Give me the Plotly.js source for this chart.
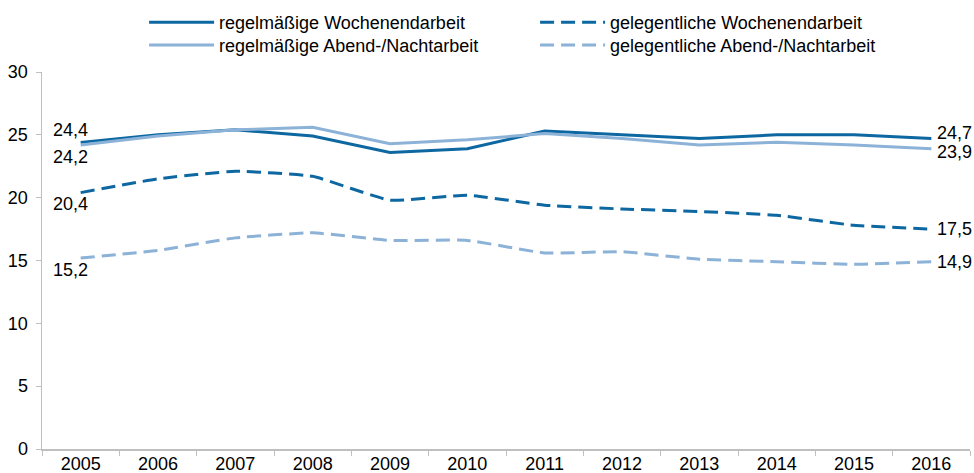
<!DOCTYPE html>
<html>
<head>
<meta charset="utf-8">
<script src="https://cdn.plot.ly/plotly-3.0.1.min.js"></script>
<style>html,body{margin:0;padding:0;background:#fff;}#chart{width:974px;height:473px;}</style>
</head>
<body>
<div id="chart"></div>
<script>
const years = ['2005','2006','2007','2008','2009','2010','2011','2012','2013','2014','2015','2016'];
const seriesNames = ['regelmäßige Wochenendarbeit','regelmäßige Abend-/Nachtarbeit','gelegentliche Wochenendarbeit','gelegentliche Abend-/Nachtarbeit'];
const regWochenende = [24.4,25.0,25.4,24.9,23.6,23.9,25.3,25.0,24.7,25.0,25.0,24.7];
const regAbend      = [24.2,24.9,25.4,25.6,24.3,24.6,25.1,24.7,24.2,24.4,24.2,23.9];
const gelWochenende = [20.4,21.5,22.1,21.7,19.8,20.2,19.4,19.1,18.9,18.6,17.8,17.5];
const gelAbend      = [15.2,15.8,16.8,17.2,16.6,16.6,15.6,15.7,15.1,14.9,14.7,14.9];
const yTicks = [0,5,10,15,20,25,30];

const DARK = '#0d67a1';
const LIGHT = '#8cb2d8';
const FONT = 'Liberation Sans, Arial, sans-serif';
const series = [regWochenende, regAbend, gelWochenende, gelAbend];
const styles = [
  {color: DARK, dash: 'solid', shape: 'linear', legend: 'legend'},
  {color: LIGHT, dash: 'solid', shape: 'linear', legend: 'legend2'},
  {color: DARK, dash: '14px,7px', shape: 'spline', legend: 'legend'},
  {color: LIGHT, dash: '14px,7px', shape: 'spline', legend: 'legend2'}
];
// label offsets (px) for first / last point labels
const firstShift = [[-10, 12], [-10, -12], [-10, -11], [-10, -12]];
const lastShift = [6, -3, 0, 0];

const traces = series.map((vals, i) => ({
  x: years, y: vals, type: 'scatter', mode: 'lines', name: seriesNames[i],
  legend: styles[i].legend,
  line: {color: styles[i].color, width: 3, dash: styles[i].dash, shape: styles[i].shape, smoothing: 0.4},
  hoverinfo: 'skip'
}));

const fmt = v => v.toFixed(1).replace('.', ',');
const annotations = [];
series.forEach((vals, i) => {
  const n = vals.length - 1;
  annotations.push({xref: 'x', yref: 'y', x: 0, y: vals[0], text: fmt(vals[0]), showarrow: false,
    xanchor: 'center', yanchor: 'middle', xshift: firstShift[i][0], yshift: firstShift[i][1],
    font: {family: FONT, size: 18, color: '#000'}});
  annotations.push({xref: 'x', yref: 'y', x: n, y: vals[n], text: fmt(vals[n]), showarrow: false,
    xanchor: 'left', yanchor: 'middle', xshift: 4, yshift: lastShift[i],
    font: {family: FONT, size: 18, color: '#000'}});
});

const legendCommon = {orientation: 'h', x: 0.11, xanchor: 'left', yanchor: 'middle',
  entrywidth: 311, itemwidth: 65, traceorder: 'normal',
  font: {family: FONT, size: 18, color: '#000'}, bgcolor: 'rgba(0,0,0,0)'};

const layout = {
  width: 974, height: 473,
  margin: {l: 42, r: 4, t: 67, b: 24},
  paper_bgcolor: '#fff', plot_bgcolor: '#fff',
  font: {family: FONT, size: 18, color: '#000'},
  showlegend: true,
  legend: Object.assign({}, legendCommon, {y: (449 - 17) / 382}),
  legend2: Object.assign({}, legendCommon, {y: (449 - 40) / 382}),
  xaxis: {type: 'category', categoryarray: years, categoryorder: 'array', range: [-0.5, years.length - 0.5],
    autorange: false, tickson: 'boundaries', ticks: 'outside', ticklen: 5, tickcolor: '#bfbfbf',
    showline: true, linecolor: '#bfbfbf', linewidth: 1.5, showgrid: false, zeroline: false,
    tickfont: {size: 18}, ticklabelstandoff: -2, fixedrange: true},
  yaxis: {range: [0, 30], autorange: false, tickvals: yTicks, ticktext: yTicks.map(String), ticks: 'outside', ticklen: 5,
    tickcolor: '#bfbfbf', showline: true, linecolor: '#bfbfbf', linewidth: 1.5, showgrid: false,
    zeroline: false, tickfont: {size: 18}, ticklabelstandoff: 4, fixedrange: true},
  annotations: annotations
};

Plotly.newPlot('chart', traces, layout, {displayModeBar: false, staticPlot: true});
</script>
</body>
</html>
